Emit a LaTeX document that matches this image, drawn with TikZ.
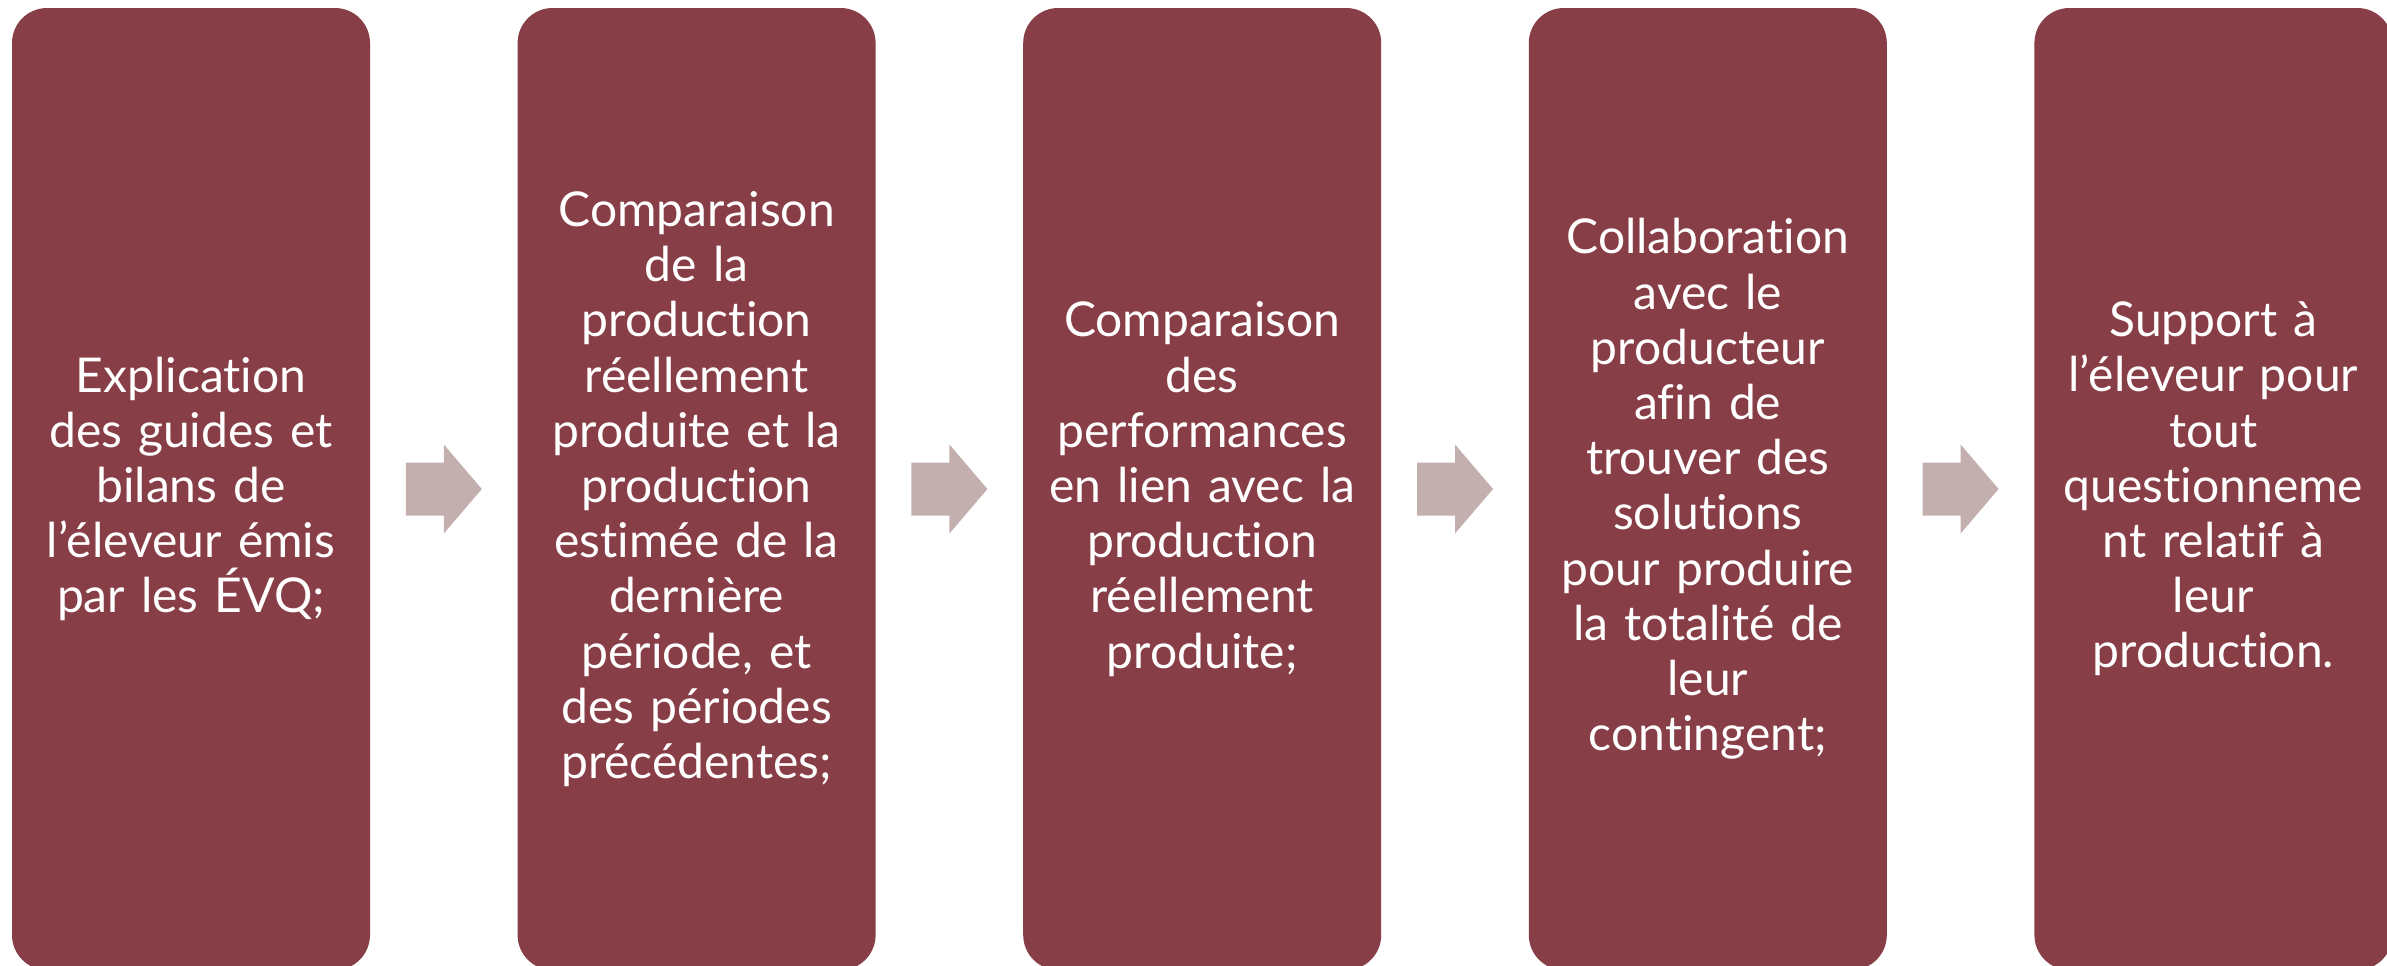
\documentclass[tikz,border=0pt]{standalone}
\usepackage{fontspec}
\setmainfont[Ligatures=NoCommon]{Lato}
\usetikzlibrary{calc}
\definecolor{boxred}{HTML}{883E46}
\definecolor{arrowpink}{HTML}{C4AFAF}
\tikzset{
  stepbox/.style={rectangle, rounded corners=17.5pt, fill=boxred, draw=none,
    minimum width=179pt, minimum height=481pt, inner sep=0pt,
    text=white, text width=170pt, align=center,
    font=\fontsize{24}{27.6}\selectfont},
  flowarrow/.style={fill=arrowpink, draw=none}
}
\begin{document}
\begin{tikzpicture}[x=0.5pt,y=-0.5pt]
\useasboundingbox (0,0) rectangle (2387,965);
\begin{scope}
\clip (0,0) rectangle (2387,965);
\node[stepbox] (b1) at (191,489) {Explication\\des guides et\\bilans de\\l’éleveur émis\\par les ÉVQ;};
\node[stepbox] (b2) at (696.6,489) {Comparaison\\de la\\production\\réellement\\produite et la\\production\\estimée de la\\dernière\\période, et\\des périodes\\précédentes;};
\node[stepbox] (b3) at (1202.2,489) {Comparaison\\des\\performances\\en lien avec la\\production\\réellement\\produite;};
\node[stepbox] (b4) at (1707.8,489) {Collaboration\\avec le\\producteur\\afin de\\trouver des\\solutions\\pour produire\\la totalité de\\leur\\contingent;};
\node[stepbox] (b5) at (2213.4,489) {Support à\\l’éleveur pour\\tout\\questionneme\\nt relatif à\\leur\\production.};
\end{scope}
\foreach \a/\b in {b1/b2,b2/b3,b3/b4,b4/b5}{
  \coordinate (m\a) at ($(\a.east)!0.5!(\b.west)$);
  \fill[flowarrow] ($(m\a)+(-38,-26.5)$) -- ($(m\a)+(0,-26.5)$) -- ($(m\a)+(0,-44.5)$)
    -- ($(m\a)+(38,0)$) -- ($(m\a)+(0,44.5)$) -- ($(m\a)+(0,26.5)$)
    -- ($(m\a)+(-38,26.5)$) -- cycle;
}
\end{tikzpicture}
\end{document}
